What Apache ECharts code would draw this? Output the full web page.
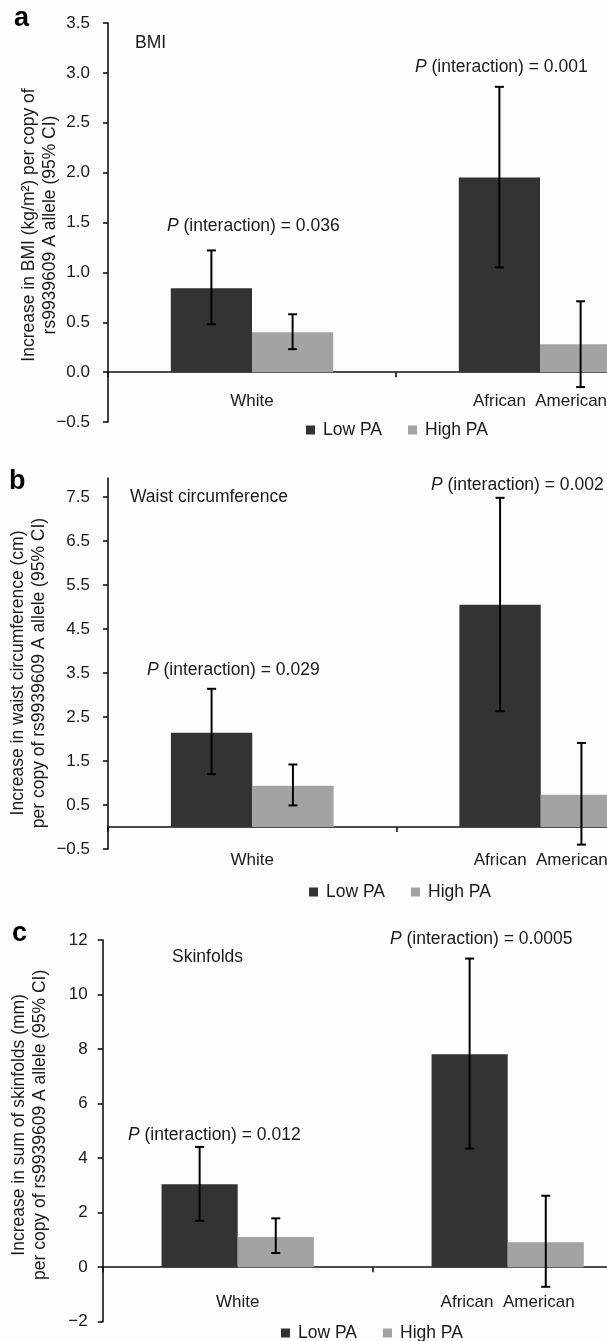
<!DOCTYPE html>
<html>
<head>
<meta charset="utf-8">
<script src="https://cdn.jsdelivr.net/npm/echarts@6/dist/echarts.min.js"></script>
<style>
html,body{margin:0;padding:0;background:#fdfdfd;}
#chart{width:607px;height:1341px;}
</style>
</head>
<body>
<div id="chart"></div>
<script>
// ---------- data ----------
const categories = ['White', 'African  American'];
const seriesNames = ['Low PA', 'High PA'];

const bmiLow = [0.84, 1.95];
const bmiLowCI = [[0.48, 1.22], [1.05, 2.86]];
const bmiHigh = [0.40, 0.28];
const bmiHighCI = [[0.23, 0.58], [-0.15, 0.71]];

const waistLow = [2.14, 5.05];
const waistLowCI = [[1.20, 3.14], [2.63, 7.48]];
const waistHigh = [0.94, 0.73];
const waistHighCI = [[0.49, 1.42], [-0.40, 1.91]];

const skinLow = [3.04, 7.81];
const skinLowCI = [[1.70, 4.41], [4.35, 11.32]];
const skinHigh = [1.11, 0.91];
const skinHighCI = [[0.52, 1.79], [-0.72, 2.62]];

const waistTicks = [-0.5, 0.5, 1.5, 2.5, 3.5, 4.5, 5.5, 6.5, 7.5];

const pValues = {
  a: ['0.036', '0.001'],
  b: ['0.029', '0.002'],
  c: ['0.012', '0.0005']
};

// ---------- style ----------
const FONT = '"Liberation Sans", Arial, Helvetica, sans-serif';
const TXT = '#1a1a1a';
const DARK = '#333333';
const LIGHT = '#a3a3a3';
const BAR_FRAC = 0.282;

const chart = echarts.init(document.getElementById('chart'), null, {renderer: 'canvas'});

function minusFmt(digits) {
  return function (v) {
    return (v < 0 ? '\u2212' : '') + Math.abs(v).toFixed(digits);
  };
}

const grids = [
  {left: 108, top: 23, height: 399, width: 576, outerBoundsMode: 'none', containLabel: false},
  {left: 108, top: 478, height: 371, width: 577, outerBoundsMode: 'none', containLabel: false},
  {left: 102.7, top: 940, height: 381.7, width: 540, outerBoundsMode: 'none', containLabel: false}
];

const yAxisNames = [
  'Increase in BMI (kg/m\u00B2) per copy of\nrs9939609 A allele (95% CI)',
  'Increase in waist circumference (cm)\nper copy of rs9939609 A allele (95% CI)',
  'Increase in sum of skinfolds (mm)\nper copy of rs9939609 A allele (95% CI)'
];

const axisLineStyle = {color: '#111', width: 1.6};

const xAxes = [0, 1, 2].map(function (i) {
  return {
    type: 'category',
    gridIndex: i,
    data: categories,
    axisLine: {show: true, onZero: true, lineStyle: axisLineStyle},
    axisTick: {show: true, length: 5, lineStyle: axisLineStyle},
    axisLabel: {
      color: TXT, fontFamily: FONT, fontSize: 17,
      margin: [-29, 3, -28][i],
      hideOverlap: false
    },
    splitLine: {show: false}
  };
});

const yAxes = [
  {
    type: 'value', gridIndex: 0, min: -0.5, max: 3.5, interval: 0.5,
    axisLabel: {formatter: minusFmt(1), margin: 18}
  },
  {
    type: 'value', gridIndex: 1, min: -0.5, max: 7.93,
    axisLabel: {formatter: minusFmt(1), margin: 18, customValues: waistTicks},
    axisTick: {customValues: waistTicks}
  },
  {
    type: 'value', gridIndex: 2, min: -2, max: 12, interval: 2,
    axisLabel: {formatter: minusFmt(0), margin: 15}
  }
].map(function (ax, i) {
  ax.axisLine = {show: true, lineStyle: axisLineStyle};
  ax.axisTick = Object.assign({show: true, length: 5, lineStyle: axisLineStyle}, ax.axisTick || {});
  ax.axisLabel = Object.assign({color: TXT, fontFamily: FONT, fontSize: 17}, ax.axisLabel);
  ax.splitLine = {show: false};
  ax.name = yAxisNames[i];
  ax.nameLocation = 'middle';
  ax.nameRotate = 90;
  ax.nameMoveOverlap = false;
  ax.nameGap = [47, 58, 52][i];
  ax.nameTextStyle = {
    color: TXT, fontFamily: FONT, fontSize: 17.5, lineHeight: 21,
    padding: [[0, 5, 0, 0], [0, 19, 0, 0], [0, 0, 0, 12]][i]
  };
  return ax;
});

function barSeries(name, values, idx, color) {
  return {
    name: name, type: 'bar',
    xAxisIndex: idx, yAxisIndex: idx,
    data: values,
    barWidth: (BAR_FRAC * 100) + '%',
    barGap: '0%',
    itemStyle: {color: color},
    z: 2
  };
}

function errSeries(name, ci, idx, sign) {
  return {
    name: name, type: 'custom',
    xAxisIndex: idx, yAxisIndex: idx,
    data: ci.map(function (c, k) { return [k, c[0], c[1]]; }),
    encode: {x: 0, y: [1, 2]},
    z: 5,
    silent: true,
    renderItem: function (params, api) {
      const band = api.size([1, 0])[0];
      const off = sign * band * BAR_FRAC / 2;
      const top = api.coord([api.value(0), api.value(2)]);
      const bot = api.coord([api.value(0), api.value(1)]);
      const x = top[0] + off;
      const cap = 4.5;
      const style = {stroke: '#000', lineWidth: 2};
      return {
        type: 'group',
        children: [
          {type: 'line', shape: {x1: x, y1: top[1], x2: x, y2: bot[1]}, style: style},
          {type: 'line', shape: {x1: x - cap, y1: top[1], x2: x + cap, y2: top[1]}, style: style},
          {type: 'line', shape: {x1: x - cap, y1: bot[1], x2: x + cap, y2: bot[1]}, style: style}
        ]
      };
    }
  };
}

const panels = [
  [bmiLow, bmiLowCI, bmiHigh, bmiHighCI],
  [waistLow, waistLowCI, waistHigh, waistHighCI],
  [skinLow, skinLowCI, skinHigh, skinHighCI]
];

const series = [];
panels.forEach(function (p, i) {
  series.push(barSeries(seriesNames[0], p[0], i, DARK));
  series.push(barSeries(seriesNames[1], p[2], i, LIGHT));
  series.push(errSeries('err' + i + 'a', p[1], i, -1));
  series.push(errSeries('err' + i + 'b', p[3], i, 1));
});

function txt(text, left, top, extra) {
  return Object.assign({
    text: text, left: left, top: top, padding: 0,
    textStyle: {
      color: TXT, fontFamily: FONT, fontSize: 17.5, fontWeight: 'normal',
      rich: {
        i: {fontStyle: 'italic', color: TXT, fontFamily: FONT, fontSize: 17.5},
        n: {color: TXT, fontFamily: FONT, fontSize: 17.5}
      }
    }
  }, extra || {});
}

function pText(v) {
  return '{i|P}{n| (interaction) = ' + v + '}';
}

function letter(ch, left, top) {
  return {
    text: ch, left: left, top: top, padding: 0,
    textStyle: {color: '#000', fontFamily: FONT, fontSize: 27, fontWeight: 'bold'}
  };
}

const titles = [
  letter('a', 14, 5),
  letter('b', 9, 468),
  letter('c', 12, 920),
  txt('BMI', 135, 34),
  txt('Waist circumference', 130, 488),
  txt('Skinfolds', 172, 948),
  txt(pText(pValues.a[0]), 167, 217),
  txt(pText(pValues.a[1]), 415, 58),
  txt(pText(pValues.b[0]), 147, 661),
  txt(pText(pValues.b[1]), 431, 476),
  txt(pText(pValues.c[0]), 128, 1126),
  txt(pText(pValues.c[1]), 390, 930)
];

function legend(left, top) {
  return {
    data: seriesNames, left: left, top: top, padding: 0,
    icon: 'rect', itemWidth: 9, itemHeight: 9, itemGap: 26,
    selectedMode: false,
    textStyle: {color: TXT, fontFamily: FONT, fontSize: 17.5, padding: [0, 0, 0, 3]}
  };
}

const option = {
  backgroundColor: '#fdfdfd',
  animation: false,
  title: titles,
  legend: [legend(306, 421), legend(309, 883), legend(281, 1324)],
  grid: grids,
  xAxis: xAxes,
  yAxis: yAxes,
  series: series
};

chart.setOption(option);
</script>
</body>
</html>
